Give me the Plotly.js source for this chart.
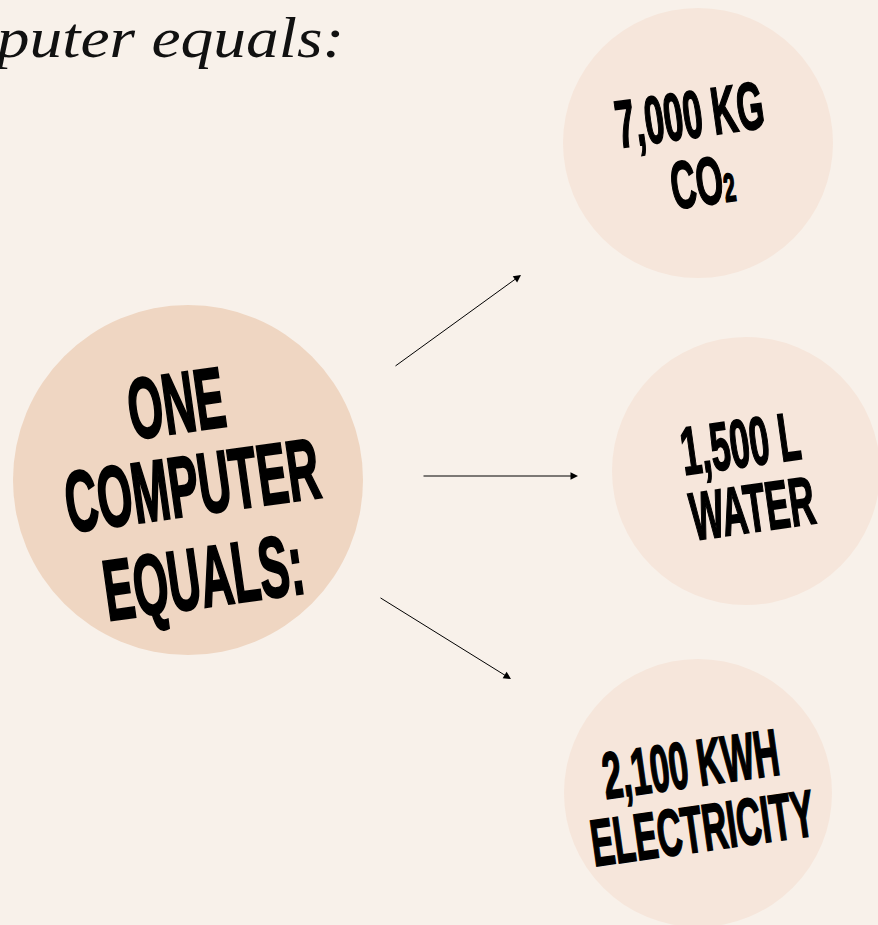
<!DOCTYPE html>
<html><head><meta charset="utf-8">
<script src="https://cdn.plot.ly/plotly-3.0.1.min.js"></script>
<style>html,body{margin:0;padding:0;background:#f8f1ea;overflow:hidden}</style>
</head><body><div id="chart" style="width:878px;height:925px"></div>
<script>
// ---- content ----
const headline = "One computer equals:";
const hubLines = ["ONE", "COMPUTER", "EQUALS:"];
const amounts = ["7,000 KG", "1,500 L", "2,100 KWH"];
const resources = ["CO<span style=\"font-size:40px\">2</span>", "WATER", "ELECTRICITY"];

// ---- layout geometry (pixel space) ----
const W = 878, H = 925;
const hub = {cx: 188, cy: 480, r: 175};
const sats = [{cx: 698, cy: 143, r: 135}, {cx: 746, cy: 471, r: 134}, {cx: 698, cy: 793, r: 134}];
const hubLinePos = [[176, 403], [192, 485], [203, 577]];
const satLinePos = [[[689, 114], [702, 181]], [[740, 443], [752, 508]], [[690, 764], [702, 828]]];
const hubFont = 86;
const satFont = [67, 68, 66];
const arrowPos = [[394, 367, 521, 275], [422, 476, 578, 476], [379, 597, 511, 679]];
const ANGLE = -8, SX = 0.52;
const BOLD = "Liberation Sans, Arial, sans-serif";

const shapes = [];
const annotations = [];
const squeeze = [];   // [sx, sy, strokeWidth, originMode]

shapes.push({type: 'circle', layer: 'below', xref: 'x', yref: 'y',
  x0: hub.cx - hub.r, x1: hub.cx + hub.r, y0: hub.cy - hub.r, y1: hub.cy + hub.r,
  fillcolor: '#efd6c2', line: {width: 0}});
sats.forEach(s => shapes.push({type: 'circle', layer: 'below', xref: 'x', yref: 'y',
  x0: s.cx - s.r, x1: s.cx + s.r, y0: s.cy - s.r, y1: s.cy + s.r,
  fillcolor: '#f6e6db', line: {width: 0}}));

annotations.push({text: headline, x: 346, y: 37, xref: 'x', yref: 'y', showarrow: false,
  xanchor: 'right', yanchor: 'middle',
  font: {family: 'Liberation Serif', size: 58, color: '#111', style: 'italic'}});
squeeze.push([1.13, 1, 0, 'right']);

hubLines.forEach((t, i) => {
  annotations.push({text: t, x: hubLinePos[i][0], y: hubLinePos[i][1], xref: 'x', yref: 'y',
    showarrow: false, xanchor: 'center', yanchor: 'middle', textangle: ANGLE,
    font: {family: BOLD, size: hubFont, color: '#000', weight: 'bold'}});
  squeeze.push([SX, 1, 2.4, 'center']);
});

amounts.forEach((t, i) => {
  [t, resources[i]].forEach((line, j) => {
    annotations.push({text: line, x: satLinePos[i][j][0], y: satLinePos[i][j][1], xref: 'x', yref: 'y',
      showarrow: false, xanchor: 'center', yanchor: 'middle', textangle: ANGLE,
      font: {family: BOLD, size: satFont[i], color: '#000', weight: 'bold'}});
    squeeze.push([SX, 1, 1.8, 'center']);
  });
});

arrowPos.forEach(a => {
  annotations.push({text: '', x: a[2], y: a[3], ax: a[0], ay: a[1], xref: 'x', yref: 'y',
    axref: 'x', ayref: 'y', showarrow: true, arrowhead: 2, arrowsize: 1.5, arrowwidth: 1,
    arrowcolor: '#000', standoff: 0});
  squeeze.push(null);
});

const layout = {
  width: W, height: H, margin: {l: 0, r: 0, t: 0, b: 0},
  paper_bgcolor: '#f8f1ea', plot_bgcolor: '#f8f1ea', showlegend: false,
  xaxis: {range: [0, W], visible: false, fixedrange: true},
  yaxis: {range: [H, 0], visible: false, fixedrange: true},
  shapes, annotations
};

Plotly.newPlot('chart', [], layout, {staticPlot: true, displayModeBar: false}).then(gd => {
  gd.querySelectorAll('g.annotation').forEach(g => {
    const idx = +g.getAttribute('data-index');
    const s = squeeze[idx];
    if (!s) return;
    const t = g.querySelector('text.annotation-text');
    if (!t) return;
    const b = t.getBBox();
    const ox = s[3] === 'right' ? b.x + b.width : b.x + b.width / 2;
    const oy = b.y + b.height / 2;
    const prev = t.getAttribute('transform') || '';
    t.setAttribute('transform', `translate(${ox},${oy}) scale(${s[0]},${s[1]}) translate(${-ox},${-oy}) ${prev}`);
    if (s[2]) {
      t.style.stroke = '#000';
      t.style.strokeWidth = s[2] + 'px';
      t.style.strokeLinejoin = 'miter';
    }
  });
});
</script>
</body></html>
